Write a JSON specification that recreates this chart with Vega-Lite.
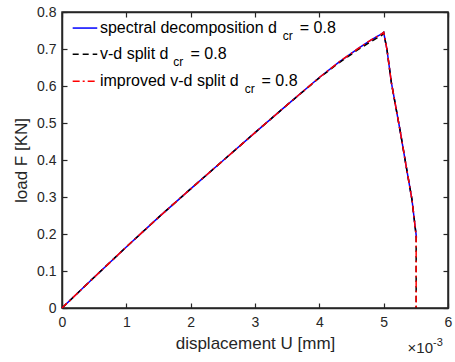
{
  "$schema": "https://vega.github.io/schema/vega-lite/v6.json",
  "width": 386,
  "height": 296,
  "autosize": {"type": "none"},
  "padding": {"left": 62, "top": 12, "right": 7, "bottom": 54},
  "background": "white",
  "config": {
    "view": {"stroke": "#262626", "strokeWidth": 1.5},
    "font": "Liberation Sans",
    "axis": {
      "domainColor": "#262626", "domainWidth": 1.5,
      "tickColor": "#262626", "tickSize": -5, "tickWidth": 1.2,
      "labelColor": "#262626", "labelFont": "Liberation Sans", "labelFontSize": 14,
      "titleColor": "#262626", "titleFont": "Liberation Sans", "titleFontSize": 17, "titleFontWeight": "normal",
      "grid": false
    }
  },
  "resolve": {"scale": {"x": "independent", "y": "independent"}, "axis": {"x": "independent", "y": "independent"}},
  "layer": [
    {
      "data": {"values": [
        {"u": 0, "F": 0}, {"u": 0.0005, "F": 0.083}, {"u": 0.001, "F": 0.165}, {"u": 0.0015, "F": 0.245},
        {"u": 0.002, "F": 0.322}, {"u": 0.0025, "F": 0.398}, {"u": 0.003, "F": 0.474}, {"u": 0.0035, "F": 0.549},
        {"u": 0.004, "F": 0.623}, {"u": 0.0043, "F": 0.664}, {"u": 0.0046, "F": 0.701}, {"u": 0.0048, "F": 0.724},
        {"u": 0.0049, "F": 0.734}, {"u": 0.00497, "F": 0.741}, {"u": 0.005, "F": 0.745}, {"u": 0.00505, "F": 0.7},
        {"u": 0.00512, "F": 0.609}, {"u": 0.00519, "F": 0.542}, {"u": 0.00526, "F": 0.475}, {"u": 0.00535, "F": 0.383},
        {"u": 0.00544, "F": 0.293}, {"u": 0.00547, "F": 0.248}, {"u": 0.00551, "F": 0.19}
      ]},
      "mark": {"type": "line", "color": "#0000ff", "strokeWidth": 1.5},
      "encoding": {
        "x": {"field": "u", "type": "quantitative",
              "scale": {"domain": [0, 0.006], "nice": false, "zero": false},
              "axis": {"orient": "bottom", "title": "displacement U [mm]", "values": [0, 0.001, 0.002, 0.003, 0.004, 0.005, 0.006],
                       "labelExpr": "format(datum.value * 1000, '~g')", "labelPadding": 12, "titlePadding": 6, "labelFlush": false}},
        "y": {"field": "F", "type": "quantitative",
              "scale": {"domain": [0, 0.8], "nice": false},
              "axis": {"orient": "left", "title": "load F [KN]", "values": [0, 0.1, 0.2, 0.3, 0.4, 0.5, 0.6, 0.7, 0.8],
                       "labelExpr": "format(datum.value, '~g')", "labelPadding": 11, "titlePadding": 6, "labelFlush": false}}
      }
    },
    {
      "data": {"values": [
        {"u": 0, "F": 0}, {"u": 0.0005, "F": 0.083}, {"u": 0.001, "F": 0.165}, {"u": 0.0015, "F": 0.245},
        {"u": 0.002, "F": 0.322}, {"u": 0.0025, "F": 0.398}, {"u": 0.003, "F": 0.474}, {"u": 0.0035, "F": 0.549},
        {"u": 0.004, "F": 0.622}, {"u": 0.0043, "F": 0.662}, {"u": 0.0046, "F": 0.698}, {"u": 0.0048, "F": 0.72},
        {"u": 0.0049, "F": 0.73}, {"u": 0.00497, "F": 0.737}, {"u": 0.005, "F": 0.744}, {"u": 0.00505, "F": 0.7},
        {"u": 0.00512, "F": 0.609}, {"u": 0.00519, "F": 0.542}, {"u": 0.00526, "F": 0.475}, {"u": 0.00535, "F": 0.383},
        {"u": 0.00544, "F": 0.293}, {"u": 0.00547, "F": 0.248}, {"u": 0.005505, "F": 0.195}, {"u": 0.005505, "F": 0}
      ]},
      "mark": {"type": "line", "color": "#000000", "strokeWidth": 1.5, "strokeDash": [6, 4]},
      "encoding": {
        "x": {"field": "u", "type": "quantitative", "sort": null, "scale": {"domain": [0, 0.006], "nice": false, "zero": false}, "axis": null},
        "y": {"field": "F", "type": "quantitative", "scale": {"domain": [0, 0.8], "nice": false}, "axis": null}
      }
    },
    {
      "data": {"values": [{}]},
      "mark": {"type": "rule", "color": "#0000ff", "strokeWidth": 1.5},
      "encoding": {
        "x": {"datum": 0.000166, "type": "quantitative", "scale": {"domain": [0, 0.006], "nice": false, "zero": false}, "axis": null},
        "x2": {"datum": 0.000548},
        "y": {"datum": 0.7566, "type": "quantitative", "scale": {"domain": [0, 0.8], "nice": false}, "axis": null}
      }
    },
    {
      "data": {"values": [{}]},
      "mark": {"type": "rule", "color": "#000000", "strokeWidth": 1.5, "strokeDash": [6, 4]},
      "encoding": {
        "x": {"datum": 0.000166, "type": "quantitative", "scale": {"domain": [0, 0.006], "nice": false, "zero": false}, "axis": null},
        "x2": {"datum": 0.000548},
        "y": {"datum": 0.686, "type": "quantitative", "scale": {"domain": [0, 0.8], "nice": false}, "axis": null}
      }
    },
    {
      "data": {"values": [{}]},
      "mark": {"type": "rule", "color": "#ff0000", "strokeWidth": 1.5, "strokeDash": [7, 3, 2, 3]},
      "encoding": {
        "x": {"datum": 0.000166, "type": "quantitative", "scale": {"domain": [0, 0.006], "nice": false, "zero": false}, "axis": null},
        "x2": {"datum": 0.000548},
        "y": {"datum": 0.613, "type": "quantitative", "scale": {"domain": [0, 0.8], "nice": false}, "axis": null}
      }
    },
    {
      "data": {"values": [{}]},
      "mark": {"type": "text", "align": "left", "baseline": "middle", "fontSize": 16, "color": "#000000", "text": "spectral decomposition d"},
      "encoding": {
        "x": {"datum": 0.00059, "type": "quantitative", "scale": {"domain": [0, 0.006], "nice": false, "zero": false}, "axis": null},
        "y": {"datum": 0.7566, "type": "quantitative", "scale": {"domain": [0, 0.8], "nice": false}, "axis": null}
      }
    },
    {
      "data": {"values": [{}]},
      "mark": {"type": "text", "align": "left", "baseline": "middle", "fontSize": 12, "dy": 8, "color": "#000000", "text": "cr"},
      "encoding": {
        "x": {"datum": 0.003432, "type": "quantitative", "scale": {"domain": [0, 0.006], "nice": false, "zero": false}, "axis": null},
        "y": {"datum": 0.7566, "type": "quantitative", "scale": {"domain": [0, 0.8], "nice": false}, "axis": null}
      }
    },
    {
      "data": {"values": [{}]},
      "mark": {"type": "text", "align": "left", "baseline": "middle", "fontSize": 16, "color": "#000000", "text": "= 0.8"},
      "encoding": {
        "x": {"datum": 0.003696, "type": "quantitative", "scale": {"domain": [0, 0.006], "nice": false, "zero": false}, "axis": null},
        "y": {"datum": 0.7566, "type": "quantitative", "scale": {"domain": [0, 0.8], "nice": false}, "axis": null}
      }
    },
    {
      "data": {"values": [{}]},
      "mark": {"type": "text", "align": "left", "baseline": "middle", "fontSize": 16, "color": "#000000", "text": "v-d split d"},
      "encoding": {
        "x": {"datum": 0.00059, "type": "quantitative", "scale": {"domain": [0, 0.006], "nice": false, "zero": false}, "axis": null},
        "y": {"datum": 0.686, "type": "quantitative", "scale": {"domain": [0, 0.8], "nice": false}, "axis": null}
      }
    },
    {
      "data": {"values": [{}]},
      "mark": {"type": "text", "align": "left", "baseline": "middle", "fontSize": 12, "dy": 8, "color": "#000000", "text": "cr"},
      "encoding": {
        "x": {"datum": 0.001728, "type": "quantitative", "scale": {"domain": [0, 0.006], "nice": false, "zero": false}, "axis": null},
        "y": {"datum": 0.686, "type": "quantitative", "scale": {"domain": [0, 0.8], "nice": false}, "axis": null}
      }
    },
    {
      "data": {"values": [{}]},
      "mark": {"type": "text", "align": "left", "baseline": "middle", "fontSize": 16, "color": "#000000", "text": "= 0.8"},
      "encoding": {
        "x": {"datum": 0.001998, "type": "quantitative", "scale": {"domain": [0, 0.006], "nice": false, "zero": false}, "axis": null},
        "y": {"datum": 0.686, "type": "quantitative", "scale": {"domain": [0, 0.8], "nice": false}, "axis": null}
      }
    },
    {
      "data": {"values": [{}]},
      "mark": {"type": "text", "align": "left", "baseline": "middle", "fontSize": 16, "color": "#000000", "text": "improved v-d split d"},
      "encoding": {
        "x": {"datum": 0.00059, "type": "quantitative", "scale": {"domain": [0, 0.006], "nice": false, "zero": false}, "axis": null},
        "y": {"datum": 0.613, "type": "quantitative", "scale": {"domain": [0, 0.8], "nice": false}, "axis": null}
      }
    },
    {
      "data": {"values": [{}]},
      "mark": {"type": "text", "align": "left", "baseline": "middle", "fontSize": 12, "dy": 8, "color": "#000000", "text": "cr"},
      "encoding": {
        "x": {"datum": 0.002842, "type": "quantitative", "scale": {"domain": [0, 0.006], "nice": false, "zero": false}, "axis": null},
        "y": {"datum": 0.613, "type": "quantitative", "scale": {"domain": [0, 0.8], "nice": false}, "axis": null}
      }
    },
    {
      "data": {"values": [{}]},
      "mark": {"type": "text", "align": "left", "baseline": "middle", "fontSize": 16, "color": "#000000", "text": "= 0.8"},
      "encoding": {
        "x": {"datum": 0.003101, "type": "quantitative", "scale": {"domain": [0, 0.006], "nice": false, "zero": false}, "axis": null},
        "y": {"datum": 0.613, "type": "quantitative", "scale": {"domain": [0, 0.8], "nice": false}, "axis": null}
      }
    },
    {
      "data": {"values": [{}]},
      "mark": {"type": "text", "align": "right", "baseline": "alphabetic", "fontSize": 15, "dx": -15, "dy": 45, "color": "#262626", "text": "×10"},
      "encoding": {
        "x": {"datum": 0.006, "type": "quantitative", "scale": {"domain": [0, 0.006], "nice": false, "zero": false}, "axis": null},
        "y": {"datum": 0, "type": "quantitative", "scale": {"domain": [0, 0.8], "nice": false}, "axis": null}
      }
    },
    {
      "data": {"values": [{}]},
      "mark": {"type": "text", "align": "left", "baseline": "alphabetic", "fontSize": 11, "dx": -15, "dy": 38, "color": "#262626", "text": "-3"},
      "encoding": {
        "x": {"datum": 0.006, "type": "quantitative", "scale": {"domain": [0, 0.006], "nice": false, "zero": false}, "axis": null},
        "y": {"datum": 0, "type": "quantitative", "scale": {"domain": [0, 0.8], "nice": false}, "axis": null}
      }
    },
    {
      "data": {"values": [
        {"u": 0, "F": 0}, {"u": 0.0005, "F": 0.083}, {"u": 0.001, "F": 0.165}, {"u": 0.0015, "F": 0.245},
        {"u": 0.002, "F": 0.322}, {"u": 0.0025, "F": 0.398}, {"u": 0.003, "F": 0.474}, {"u": 0.0035, "F": 0.549},
        {"u": 0.004, "F": 0.623}, {"u": 0.0043, "F": 0.664}, {"u": 0.0046, "F": 0.701}, {"u": 0.0048, "F": 0.724},
        {"u": 0.0049, "F": 0.734}, {"u": 0.00497, "F": 0.741}, {"u": 0.005, "F": 0.745}, {"u": 0.00505, "F": 0.7},
        {"u": 0.00512, "F": 0.609}, {"u": 0.00519, "F": 0.542}, {"u": 0.00526, "F": 0.475}, {"u": 0.00535, "F": 0.383},
        {"u": 0.00544, "F": 0.293}, {"u": 0.00547, "F": 0.248}, {"u": 0.005505, "F": 0.195}, {"u": 0.005505, "F": 0}
      ]},
      "mark": {"type": "line", "color": "#ff0000", "strokeWidth": 1.5, "strokeDash": [7, 3, 2, 3]},
      "encoding": {
        "x": {"field": "u", "type": "quantitative",
              "scale": {"domain": [0, 0.006], "nice": false, "zero": false},
              "axis": {"orient": "top", "title": null, "labels": false, "zindex": 1, "domainColor": "#262626", "domainWidth": 1.5, "tickColor": "#262626", "tickSize": -5, "tickWidth": 1.2, "values": [0, 0.001, 0.002, 0.003, 0.004, 0.005, 0.006]}},
        "y": {"field": "F", "type": "quantitative",
              "scale": {"domain": [0, 0.8], "nice": false},
              "axis": {"orient": "right", "title": null, "labels": false, "zindex": 1, "domainColor": "#262626", "domainWidth": 1.5, "tickColor": "#262626", "tickSize": -5, "tickWidth": 1.2, "values": [0, 0.1, 0.2, 0.3, 0.4, 0.5, 0.6, 0.7, 0.8]}}
      }
    }
  ]
}
